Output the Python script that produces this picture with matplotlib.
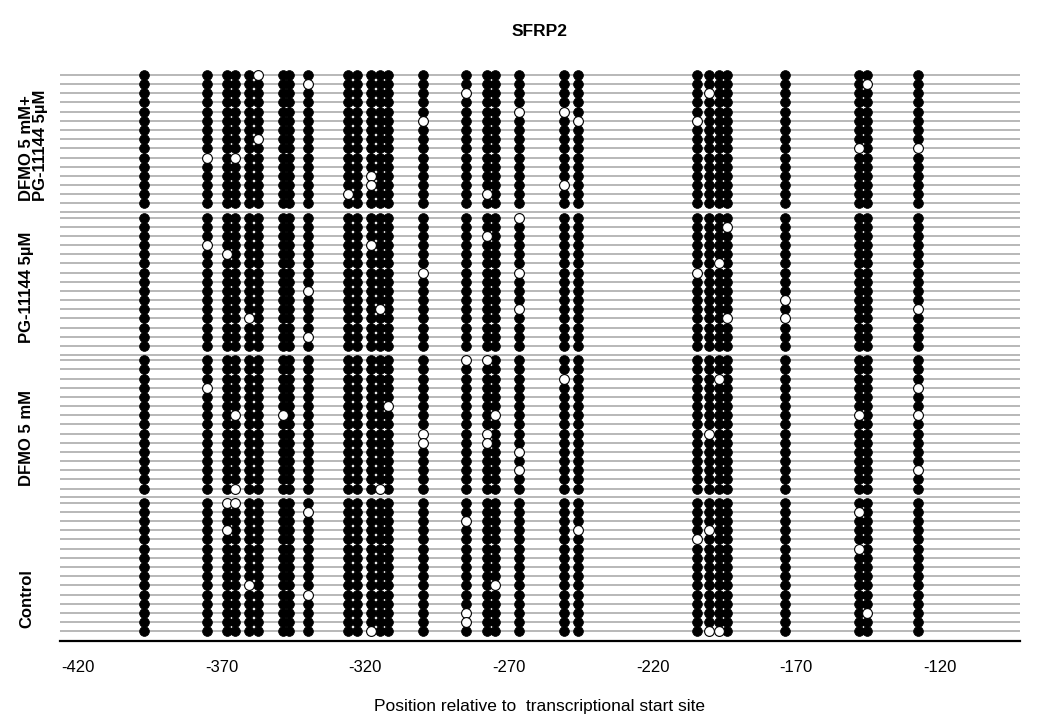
import matplotlib
matplotlib.use("Agg")
import matplotlib.pyplot as plt
import matplotlib.transforms as mtransforms
from matplotlib import font_manager
import numpy as np

# CpG positions relative to TSS
cpg_pos = [-397, -375, -368, -365.5, -360.5, -357.5, -348.5, -346.5, -340,
           -326, -323, -318, -315, -312, -300, -285, -277.5, -275, -266.5,
           -251, -246, -204.5, -200.5, -197, -194, -174, -148, -145.5, -127.5]

groups = ["DFMO 5 mM+\nPG-11144 5\u00b5M", "PG-11144 5\u00b5M", "DFMO 5 mM", "Control"]
n_clones = 15

# unmethylated sites as (clone row from top, CpG number 1..29)
unmeth_combo = [(0, 6), (1, 9), (1, 28), (2, 16), (2, 23), (4, 19), (4, 20), (5, 15),
                (5, 21), (5, 22), (7, 6), (8, 27), (8, 29), (9, 2), (9, 4), (11, 12),
                (12, 12), (12, 20), (13, 10), (13, 17)]
unmeth_pg = [(0, 19), (1, 25), (2, 17), (3, 2), (3, 12), (4, 3), (5, 24), (6, 15),
             (6, 19), (6, 22), (8, 9), (9, 26), (10, 13), (10, 19), (10, 29), (11, 5),
             (11, 25), (11, 26), (13, 9)]
unmeth_dfmo = [(0, 16), (0, 17), (2, 20), (2, 24), (3, 2), (3, 29), (5, 14), (6, 4),
               (6, 7), (6, 18), (6, 27), (6, 29), (8, 15), (8, 17), (8, 23), (9, 15),
               (9, 17), (10, 19), (12, 19), (12, 29), (14, 4), (14, 13)]
unmeth_ctrl = [(0, 3), (0, 4), (1, 9), (1, 27), (2, 16), (3, 3), (3, 21), (3, 23),
               (4, 22), (5, 27), (9, 5), (9, 18), (10, 9), (12, 16), (12, 28), (13, 16),
               (14, 12), (14, 23), (14, 24)]
unmeth_groups = [unmeth_combo, unmeth_pg, unmeth_dfmo, unmeth_ctrl]

xticks = [-420, -370, -320, -270, -220, -170, -120]


def pick_font(names):
    for n in names:
        try:
            font_manager.findfont(n, fallback_to_default=False)
            return n
        except ValueError:
            continue
    return "DejaVu Sans"


sans = pick_font(["Liberation Sans", "DejaVu Sans"])

group_step = 15.55

fig = plt.figure(figsize=(10.4, 7.25), dpi=100)
ax = fig.add_axes([60 / 1040, 1 - 641 / 725, 960 / 1040, (641 - 68) / 725])
lab_tr = mtransforms.blended_transform_factory(fig.transFigure, ax.transData)

for g, unmeth in enumerate(unmeth_groups):
    y0 = g * group_step
    rows = y0 + np.arange(n_clones)
    for y in rows:
        ax.axhline(y, color="#acacac", lw=1.2, zorder=1)
    if g < len(groups) - 1:
        ax.axhline(rows[-1] + 0.95, color="#acacac", lw=1.2, zorder=1)

    X, Y = np.meshgrid(cpg_pos, rows)
    meth = np.ones(X.shape, dtype=bool)
    for r, c in unmeth:
        meth[r, c - 1] = False
    ax.scatter(X[meth], Y[meth], s=50, c="black", edgecolors="black",
               linewidths=0.5, zorder=3)
    ax.scatter(X[~meth], Y[~meth], s=50, c="white", edgecolors="black",
               linewidths=0.8, zorder=4)

    ax.text(19 / 1040, rows[-1] - 0.3, groups[g], transform=lab_tr, rotation=90,
            ha="left", va="bottom", multialignment="left", linespacing=0.95,
            fontsize=12, fontweight="bold", family=sans)

ax.set_xlim(-426.3, -92.1)
ax.set_ylim(61.72, -0.76)
ax.set_xticks(xticks)
ax.set_xticklabels([str(t) for t in xticks], family=sans, fontsize=12)
ax.set_yticks([])
ax.tick_params(axis="x", length=0, pad=14)
for s in ["left", "top", "right"]:
    ax.spines[s].set_visible(False)
ax.spines["bottom"].set_linewidth(1.6)
ax.spines["bottom"].set_zorder(5)

ax.set_xlabel("Position relative to  transcriptional start site", family=sans,
              fontsize=12.5, labelpad=17)
fig.text(540 / 1040, 1 - 31 / 725, "SFRP2", ha="center", va="center",
         fontsize=12.5, fontweight="bold", family=sans)

fig.savefig("out.png", dpi=100)
